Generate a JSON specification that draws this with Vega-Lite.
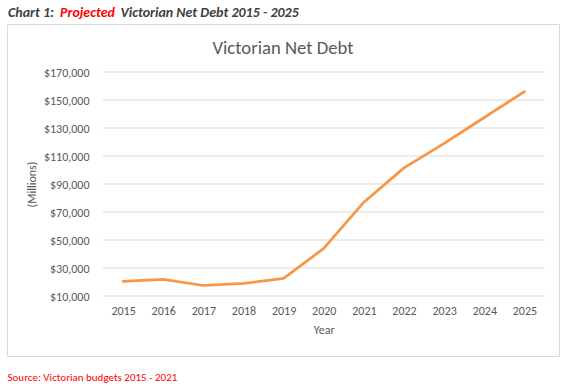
{
  "$schema": "https://vega.github.io/schema/vega-lite/v6.json",
  "autosize": {"type": "none"},
  "width": 552,
  "height": 332,
  "padding": {"left": 7, "top": 24, "right": 17, "bottom": 34},
  "background": "white",
  "title": {"text": "Victorian Net Debt", "anchor": "middle", "frame": "group", "fontSize": 18.7, "fontWeight": "normal", "color": "#595959", "offset": 4, "dy": 57},
  "datasets": {
    "debt": [
      {"Year": 2015, "Debt": 20400},
      {"Year": 2016, "Debt": 21800},
      {"Year": 2017, "Debt": 17500},
      {"Year": 2018, "Debt": 19000},
      {"Year": 2019, "Debt": 22600},
      {"Year": 2020, "Debt": 44000},
      {"Year": 2021, "Debt": 77000},
      {"Year": 2022, "Debt": 101500},
      {"Year": 2023, "Debt": 119000},
      {"Year": 2024, "Debt": 137500},
      {"Year": 2025, "Debt": 156000}
    ],
    "grid": [
      {"v": 10000}, {"v": 30000}, {"v": 50000}, {"v": 70000}, {"v": 90000},
      {"v": 110000}, {"v": 130000}, {"v": 150000}, {"v": 170000}
    ]
  },
  "layer": [
    {
      "data": {"name": "grid"},
      "mark": {"type": "rule", "color": "#d9d9d9", "strokeWidth": 1},
      "encoding": {
        "y": {"field": "v", "type": "quantitative", "axis": null, "scale": {"domain": [10000, 170000], "range": [272, 48], "zero": false, "nice": false}},
        "x": {"datum": 2014.5, "type": "quantitative", "axis": null, "scale": {"domain": [2014.5, 2025.5], "range": [96, 537.5], "zero": false, "nice": false}},
        "x2": {"datum": 2025.5}
      }
    },
    {
      "data": {"name": "debt"},
      "mark": {"type": "line", "color": "#F79646", "strokeWidth": 2.75, "strokeCap": "round", "strokeJoin": "round"},
      "encoding": {
        "x": {"field": "Year", "type": "quantitative", "scale": {"domain": [2014.5, 2025.5], "range": [96, 537.5], "zero": false, "nice": false},
          "axis": {"orient": "bottom", "offset": -60, "values": [2015, 2016, 2017, 2018, 2019, 2020, 2021, 2022, 2023, 2024, 2025], "format": "d", "grid": false, "ticks": false, "domain": false, "labelPadding": 9, "labelFontSize": 12, "labelColor": "#595959", "labelFlush": false, "labelOverlap": false, "title": "Year", "titleFontSize": 12, "titleFontWeight": "normal", "titleColor": "#595959", "titlePadding": 8}},
        "y": {"field": "Debt", "type": "quantitative", "scale": {"domain": [10000, 170000], "range": [272, 48], "zero": false, "nice": false},
          "axis": {"orient": "left", "offset": -86, "values": [10000, 30000, 50000, 70000, 90000, 110000, 130000, 150000, 170000], "format": "$,.0f", "grid": false, "ticks": false, "domain": false, "labelPadding": 4, "labelFontSize": 12, "labelColor": "#595959", "labelOverlap": false, "title": "(Millions)", "titleFontSize": 12, "titleFontWeight": "normal", "titleColor": "#595959", "titlePadding": 5}}
      }
    },
    {
      "data": {"name": "debt"},
      "mark": {"type": "line", "opacity": 0},
      "encoding": {
        "x": {"field": "Year", "type": "quantitative", "scale": {"domain": [2014.5, 2025.5], "range": [96, 537.5], "zero": false, "nice": false},
          "axis": {"orient": "top", "offset": 0, "labels": false, "ticks": false, "domain": false, "grid": false, "title": "Chart 1:", "titleX": 0.5, "titleY": -12, "titleAlign": "left", "titleAnchor": null, "titleBaseline": "middle", "titleAngle": 0, "titleFontSize": 14, "titleFontWeight": "bold", "titleFontStyle": "italic", "titleColor": "#404040"}},
        "y": {"field": "Debt", "type": "quantitative", "scale": {"domain": [10000, 170000], "range": [272, 48], "zero": false, "nice": false},
          "axis": {"orient": "right", "offset": 0, "labels": false, "ticks": false, "domain": false, "grid": false, "title": "Projected", "titleX": -499.5, "titleY": -12, "titleAlign": "left", "titleAnchor": null, "titleBaseline": "middle", "titleAngle": 0, "titleFontSize": 14, "titleFontWeight": "bold", "titleFontStyle": "italic", "titleColor": "#FF0000"}}
      }
    },
    {
      "data": {"name": "debt"},
      "mark": {"type": "line", "opacity": 0},
      "encoding": {
        "x": {"field": "Year", "type": "quantitative", "scale": {"domain": [2014.5, 2025.5], "range": [96, 537.5], "zero": false, "nice": false},
          "axis": {"orient": "bottom", "offset": 0, "labels": false, "ticks": false, "domain": false, "grid": false, "title": "Source: Victorian budgets 2015 - 2021", "titleX": 0, "titleY": 21, "titleAlign": "left", "titleAnchor": null, "titleBaseline": "middle", "titleAngle": 0, "titleFontSize": 11, "titleFontWeight": "normal", "titleColor": "#FF0000"}},
        "y": {"field": "Debt", "type": "quantitative", "scale": {"domain": [10000, 170000], "range": [272, 48], "zero": false, "nice": false},
          "axis": {"orient": "right", "offset": 0, "labels": false, "ticks": false, "domain": false, "grid": false, "title": "Victorian Net Debt 2015 - 2025", "titleX": -439, "titleY": -12, "titleAlign": "left", "titleAnchor": null, "titleBaseline": "middle", "titleAngle": 0, "titleFontSize": 14, "titleFontWeight": "bold", "titleFontStyle": "italic", "titleColor": "#404040"}}
      }
    }
  ],
  "resolve": {"axis": {"x": "independent", "y": "independent"}},
  "config": {
    "font": "Carlito, Lato, sans-serif",
    "view": {"stroke": "#d9d9d9", "strokeWidth": 1}
  }
}
